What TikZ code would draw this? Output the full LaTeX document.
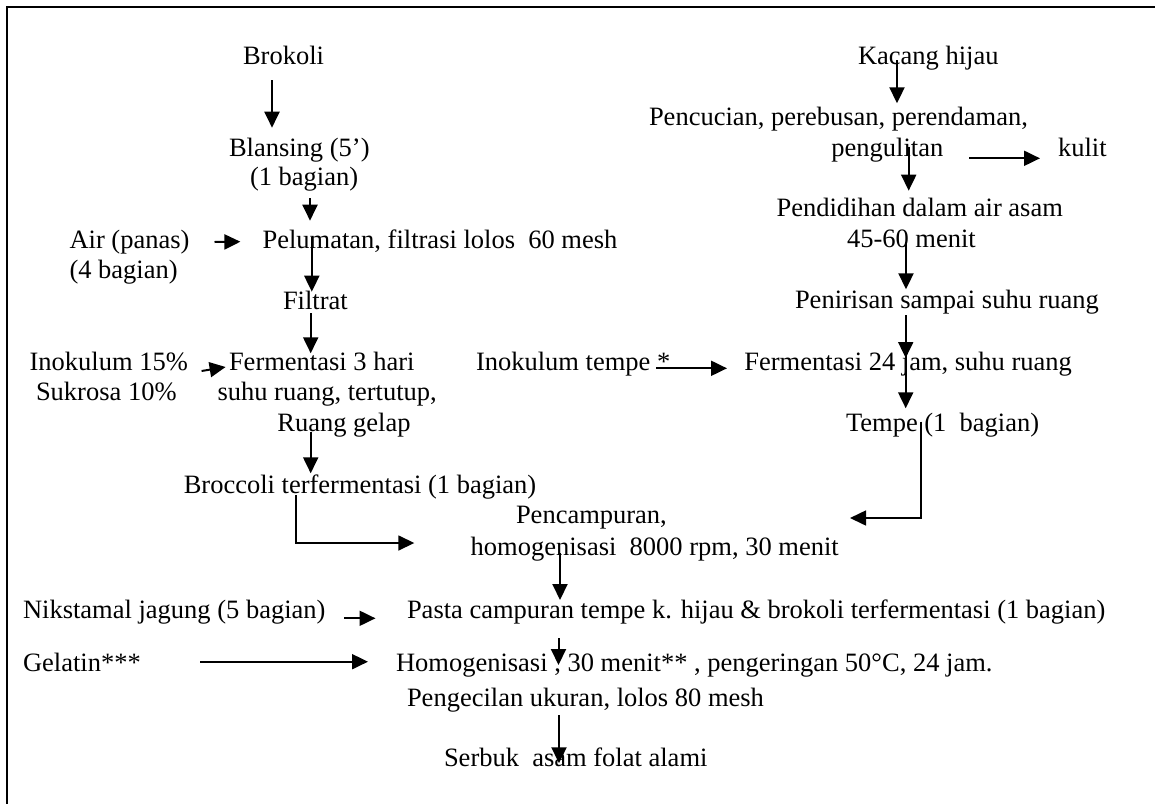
\documentclass[tikz,border=0pt]{standalone}
\usepackage{fontspec}
\setmainfont{Liberation Serif}
\usetikzlibrary{arrows.meta}
\begin{document}
\begin{tikzpicture}[x=1pt,y=-1pt,
  txt/.style={inner sep=0pt, outer sep=0pt, anchor=base west, font=\fontsize{26.5}{31}\selectfont},
  arr/.style={line width=2pt, -{Triangle[length=16pt,width=15pt]}},
  elb/.style={line width=1.6pt, -{Triangle[length=16pt,width=15pt]}},
  frame/.style={line width=2pt}]
\useasboundingbox (0,0) rectangle (1155,803);
\coordinate (fbl) at (7.4,805);
\coordinate (ftl) at (7.4,7.3);
\coordinate (ftr) at (1157,7.3);
\draw[frame] (fbl) -- (ftl) -- (ftr);
% left column
\node[txt] (brok) at (243,64.3) {Brokoli};
\node[txt] (blan1) at (229,156.7) {Blansing (5’)};
\node[txt] (blan2) at (250,185) {(1 bagian)};
\node[txt] (air1) at (69.5,248.3) {Air (panas)};
\node[txt] (air2) at (69.5,278.3) {(4 bagian)};
\node[txt] (pelu) at (262.6,248.3) {Pelumatan, filtrasi lolos\ \ 60 mesh};
\node[txt] (filt) at (283,309) {Filtrat};
\node[txt] (ino1) at (29.6,370) {Inokulum 15\%};
\node[txt] (ino2) at (36,400) {Sukrosa 10\%};
\node[txt] (ferm1) at (229,370) {Fermentasi 3 hari};
\node[txt] (ferm2) at (217.5,400) {suhu ruang, tertutup,};
\node[txt] (ferm3) at (277.4,431.7) {Ruang gelap};
\node[txt] (brocf) at (183.8,493.3) {Broccoli terfermentasi (1 bagian)};
% right column
\node[txt] (kac) at (858,64) {Kacang hijau};
\node[txt] (pen1) at (649,125) {Pencucian, perebusan, perendaman,};
\node[txt] (pen2) at (831.4,156) {pengulitan};
\node[txt] (kul) at (1058,156) {kulit};
\node[txt] (did1) at (776.6,216.7) {Pendidihan dalam air asam};
\node[txt] (did2) at (847,247.3) {45-60 menit};
\node[txt] (pnr) at (795,308.3) {Penirisan sampai suhu ruang};
\node[txt] (inot) at (476,370.7) {Inokulum tempe *};
\node[txt] (f24) at (744.4,370) {Fermentasi 24 jam, suhu ruang};
\node[txt] (tem) at (846,431.7) {Tempe (1\ \ bagian)};
% lower part
\node[txt] (pc1) at (516,523.3) {Pencampuran,};
\node[txt] (pc2) at (470.7,555) {homogenisasi\ \ 8000 rpm, 30 menit};
\node[txt] (nik) at (23,618) {Nikstamal jagung (5 bagian)};
\node[txt] (pas) at (407,618) {Pasta campuran tempe k. hijau \& brokoli terfermentasi (1 bagian)};
\node[txt] (gel) at (23,671.7) {Gelatin***};
\node[txt] (hom) at (396,671.7) {Homogenisasi , 30 menit** , pengeringan 50°C, 24 jam.};
\node[txt] (pkc) at (407,706.7) {Pengecilan ukuran, lolos 80 mesh};
\node[txt] (ser) at (444,766.7) {Serbuk\ \ asam folat alami};
% arrow end points
\coordinate (a1s) at (272,80);    \coordinate (a1e) at (272,127.7);
\coordinate (a2s) at (310,198.3); \coordinate (a2e) at (310,220.7);
\coordinate (a3s) at (214.5,242); \coordinate (a3e) at (240.4,241.7);
\coordinate (a4s) at (311.8,236.7); \coordinate (a4e) at (311.8,291.7);
\coordinate (a5s) at (310.7,313.3); \coordinate (a5e) at (310.7,353.3);
\coordinate (a6s) at (201.6,371); \coordinate (a6e) at (225.6,367);
\coordinate (a7s) at (310.7,431.7); \coordinate (a7e) at (310.7,473.3);
\coordinate (a8s) at (296,495); \coordinate (a8m) at (296,543); \coordinate (a8e) at (414.3,543);
\coordinate (k1s) at (897,60); \coordinate (k1e) at (897,103.3);
\coordinate (k2s) at (908.7,146.7); \coordinate (k2e) at (908.7,190.7);
\coordinate (kls) at (969,158.3); \coordinate (kle) at (1040,158.3);
\coordinate (k3s) at (906,241.7); \coordinate (k3e) at (906,289.3);
\coordinate (k4s) at (905.7,315); \coordinate (k4e) at (905.7,358);
\coordinate (k5s) at (905.7,356); \coordinate (k5e) at (905.7,408.3);
\coordinate (tis) at (656,368.3); \coordinate (tie) at (727,368.3);
\coordinate (tes) at (921,421.7); \coordinate (tem2) at (921,518); \coordinate (tee) at (850,518);
\coordinate (h1s) at (560,553); \coordinate (h1e) at (560,600);
\coordinate (nks) at (344,618.3); \coordinate (nke) at (375.5,618.3);
\coordinate (h2s) at (558.5,638.3); \coordinate (h2e) at (558.5,665);
\coordinate (gls) at (200,661.7); \coordinate (gle) at (368,661.7);
\coordinate (h3s) at (559,715); \coordinate (h3e) at (559,763.3);
% arrows
\draw[arr] (a1s) -- (a1e);
\draw[arr] (a2s) -- (a2e);
\draw[arr] (a3s) -- (a3e);
\draw[arr] (a4s) -- (a4e);
\draw[arr] (a5s) -- (a5e);
\draw[arr] (a6s) -- (a6e);
\draw[arr] (a7s) -- (a7e);
\draw[elb] (a8s) -- (a8m) -- (a8e);
\draw[arr] (k1s) -- (k1e);
\draw[arr] (k2s) -- (k2e);
\draw[arr] (kls) -- (kle);
\draw[arr] (k3s) -- (k3e);
\draw[arr] (k4s) -- (k4e);
\draw[arr] (k5s) -- (k5e);
\draw[arr] (tis) -- (tie);
\draw[elb] (tes) -- (tem2) -- (tee);
\draw[arr] (h1s) -- (h1e);
\draw[arr] (nks) -- (nke);
\draw[arr] (h2s) -- (h2e);
\draw[arr] (gls) -- (gle);
\draw[arr] (h3s) -- (h3e);
\end{tikzpicture}
\end{document}
